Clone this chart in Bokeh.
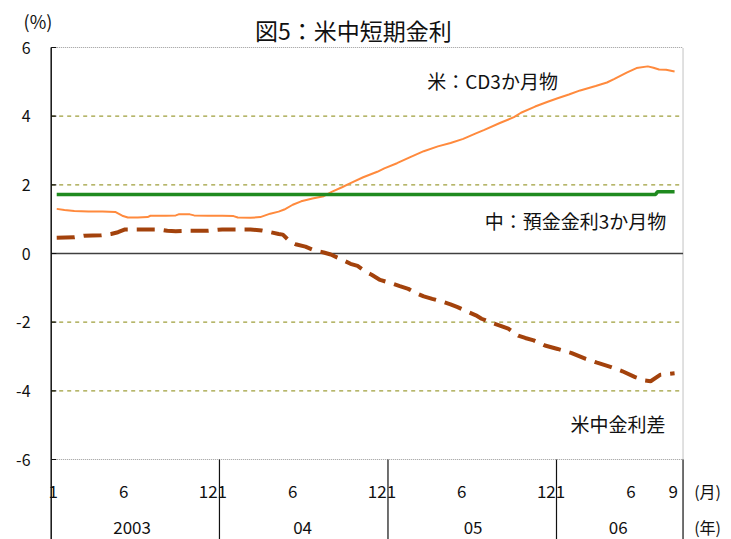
from bokeh.plotting import figure
from bokeh.models import Range1d
from bokeh.embed import file_html
from bokeh.resources import INLINE
from bokeh.core.properties import value

# ---------------- data (x = months since Jan 2003) ----------------
us_t = [0.25, 0.8, 1.5, 2.5, 3.5, 4.4, 4.9, 5.3, 6.0, 6.7, 6.9, 8.0, 8.7, 8.9, 9.7,
        10.0, 11.0, 12.0, 12.8, 13.1, 14.0, 14.7, 15.4, 16.0, 16.4, 17.0, 17.6,
        18.4, 19.2, 19.8, 20.5, 21.1, 22.0, 23.0, 23.5, 24.4, 25.3, 26.3, 27.3,
        28.2, 29.1, 30.0, 30.6, 31.7, 32.7, 33.2, 34.2, 35.1, 35.8, 36.6, 37.4,
        38.5, 39.3, 39.8, 40.7, 41.4, 42.2, 42.6, 43.0, 43.5, 44.1]
us_cd3m = [1.30, 1.27, 1.24, 1.22, 1.22, 1.21, 1.10, 1.05, 1.05, 1.06, 1.10, 1.10,
           1.11, 1.14, 1.14, 1.11, 1.10, 1.10, 1.09, 1.05, 1.04, 1.06, 1.16, 1.22,
           1.28, 1.42, 1.52, 1.60, 1.67, 1.80, 1.93, 2.05, 2.22, 2.38, 2.48, 2.63,
           2.80, 2.98, 3.12, 3.22, 3.34, 3.50, 3.60, 3.80, 3.97, 4.10, 4.28, 4.42,
           4.52, 4.63, 4.75, 4.88, 4.98, 5.08, 5.27, 5.40, 5.45, 5.41, 5.36, 5.35,
           5.30]

cn_t = [0.25, 42.75, 42.9, 44.1]
cn_dep3m = [1.72, 1.72, 1.80, 1.80]

diff_t = [0.25, 1.5, 2.2, 3.4, 4.1, 4.6, 5.1, 6.4, 7.5, 8.1, 8.7, 9.5, 10.4, 11.0,
          11.7, 12.0, 13.0, 14.0, 14.8, 15.2, 16.0, 16.3, 16.8, 17.2, 17.9, 18.6,
          19.2, 19.7, 20.5, 21.1, 21.6, 22.2, 22.6, 23.2, 24.1, 24.6, 25.2, 25.8,
          26.3, 26.9, 27.6, 28.2, 28.7, 29.5, 30.0, 30.4, 31.2, 31.7, 32.3, 33.0,
          33.5, 34.1, 34.9, 35.8, 36.8, 37.8, 38.6, 39.6, 40.4, 41.3, 42.0, 42.4,
          43.1, 44.1]
diff_val = [0.46, 0.47, 0.52, 0.53, 0.57, 0.62, 0.70, 0.70, 0.70, 0.66, 0.65, 0.66,
            0.66, 0.66, 0.69, 0.70, 0.70, 0.70, 0.67, 0.64, 0.57, 0.55, 0.35, 0.27,
            0.20, 0.08, 0.03, -0.03, -0.18, -0.30, -0.36, -0.54, -0.62, -0.77, -0.88,
            -0.95, -1.03, -1.16, -1.25, -1.32, -1.40, -1.48, -1.56, -1.71, -1.80,
            -1.90, -2.03, -2.10, -2.19, -2.39, -2.46, -2.53, -2.68, -2.78, -2.90,
            -3.07, -3.18, -3.31, -3.43, -3.60, -3.70, -3.72, -3.53, -3.49]

y_ticks = [6, 4, 2, 0, -2, -4, -6]
y_tick_labels = ["6", "4", "2", "0", "-2", "-4", "-6"]
grid_levels = [4, 2, -2, -4]
month_ticks = [0, 5, 11, 12, 17, 23, 24, 29, 35, 36, 41, 44]
month_labels = ["1", "6", "12", "1", "6", "12", "1", "6", "12", "1", "6", "9"]
year_pos = [5.6, 17.7, 29.8, 40.1]
year_labels = ["2003", "04", "05", "06"]

title_text = "図5：米中短期金利"
label_us = "米：CD3か月物"
label_cn = "中：預金金利3か月物"
label_diff = "米中金利差"

FONT = value("Noto Sans CJK JP")

# ---------------- figure ----------------
W, H = 731, 539
p = figure(width=W, height=H, output_backend="svg", toolbar_location=None,
           x_range=Range1d(-3.740, 48.14), y_range=Range1d(-8.330, 7.369),
           min_border=0, background_fill_color="white", border_fill_color="white")
p.axis.visible = False
p.grid.visible = False
p.outline_line_color = None

x_left, x_right = -0.142, 44.70
y_top, y_bot, y_floor = 6, -6, -8.330
year_sep = [11.8, 23.76, 35.72, x_right]

# grid
p.segment(x0=[x_left] * len(grid_levels), x1=[x_right] * len(grid_levels),
          y0=grid_levels, y1=grid_levels, line_color="#9e9e3a", line_width=1.4,
          line_dash="4 4")
# frame borders (top, bottom, right) gray dotted
p.segment(x0=[x_left, x_left, x_right], x1=[x_right, x_right, x_right],
          y0=[y_top, y_bot, y_bot], y1=[y_top, y_bot, y_top],
          line_color="#9a9a9a", line_width=1.2, line_dash="1 1")
# zero line
p.segment(x0=[x_left], x1=[x_right], y0=[0], y1=[0], line_color="#404040", line_width=1.6)
# year separators
p.segment(x0=year_sep, x1=year_sep, y0=[y_bot] * 4, y1=[y_floor] * 4,
          line_color="#111111", line_width=1.2)
# left axis and inner ticks
p.segment(x0=[x_left], x1=[x_left], y0=[y_top], y1=[y_floor], line_color="#111111",
          line_width=1.5)
p.segment(x0=[x_left] * len(y_ticks), x1=[x_left + 0.36] * len(y_ticks),
          y0=y_ticks, y1=y_ticks, line_color="#111111", line_width=1.2)

# series
p.line(us_t, us_cd3m, line_color="#ff8a3d", line_width=2)
p.line(cn_t, cn_dep3m, line_color="#1f8a1f", line_width=3.6)
p.line(diff_t, diff_val, line_color="#a3420c", line_width=4, line_dash="18 9")

# texts
p.text(x=[-1.61] * len(y_ticks), y=y_ticks, text=y_tick_labels, text_font=FONT,
       text_font_size="16px", text_align="right", text_baseline="middle", text_color="#111111")
p.text(x=month_ticks, y=[-6.92] * len(month_ticks), text=month_labels, text_font=FONT,
       text_font_size="17px", text_align="center", text_baseline="middle", text_color="#111111")
p.text(x=year_pos, y=[-7.98] * len(year_pos), text=year_labels, text_font=FONT,
       text_font_size="17px", text_align="center", text_baseline="middle", text_color="#111111")
p.text(x=[46.44, 46.44], y=[-6.92, -7.98], text=["(月)", "(年)"], text_font=FONT,
       text_font_size="16px", text_align="center", text_baseline="middle", text_color="#111111")
p.text(x=[-1.08], y=[6.786], text=["(%)"], text_font=FONT, text_font_size="18px",
       text_align="center", text_baseline="middle", text_color="#111111")
p.text(x=[21.3], y=[6.52], text=[title_text], text_font=FONT, text_font_size="23px",
       text_align="center", text_baseline="middle", text_color="#111111")
p.text(x=[31.18, 37.07, 40.08], y=[5.04, 0.96, -4.96],
       text=[label_us, label_cn, label_diff], text_font=FONT, text_font_size="19px",
       text_align="center", text_baseline="middle", text_color="#111111")

open("out.html", "w").write(file_html(p, INLINE))
